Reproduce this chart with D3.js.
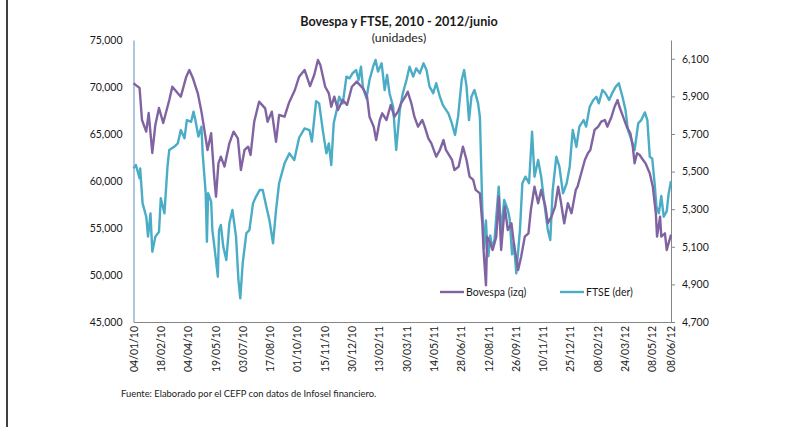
<!DOCTYPE html>
<html>
<head>
<meta charset="utf-8">
<script src="https://cdn.jsdelivr.net/npm/d3@7"></script>
<style>
  body { margin: 0; background: #fff; }
  text { font-family: Lato, "Open Sans", sans-serif; fill: #1a1a1a; }
</style>
</head>
<body>
<svg id="chart"></svg>
<script>
// Bovespa (eje izquierdo), lectura aproximada del gráfico
const bovespa = [
  ["2010-01-04",70400],["2010-01-08",70200],["2010-01-14",69900],["2010-01-18",66490],["2010-01-25",65250],
  ["2010-01-29",67230],["2010-02-04",62980],["2010-02-09",65960],["2010-02-15",67770],["2010-02-22",66170],
  ["2010-03-04",68620],["2010-03-09",70030],["2010-03-18",69330],["2010-03-23",68970],["2010-04-01",71100],
  ["2010-04-06",71810],["2010-04-12",70930],["2010-04-20",69330],["2010-04-26",67380],["2010-04-30",65780],
  ["2010-05-06",63300],["2010-05-12",65080],["2010-05-17",60460],["2010-05-20",58330],["2010-05-24",61880],
  ["2010-05-28",62590],["2010-06-03",61530],["2010-06-11",64010],["2010-06-18",65250],["2010-06-25",64540],
  ["2010-06-30",61170],["2010-07-06",63300],["2010-07-12",63650],["2010-07-16",62770],["2010-07-22",66310],
  ["2010-07-30",68440],["2010-08-09",67730],["2010-08-13",66310],["2010-08-20",67380],["2010-08-27",64180],
  ["2010-09-01",67020],["2010-09-10",66840],["2010-09-17",68260],["2010-09-27",69680],["2010-10-04",71100],
  ["2010-10-13",71810],["2010-10-22",70100],["2010-10-29",71300],["2010-11-04",72870],["2010-11-08",72340],
  ["2010-11-16",70030],["2010-11-22",69330],["2010-11-26",67900],["2010-12-01",68970],["2010-12-07",67550],
  ["2010-12-15",68620],["2010-12-22",68090],["2010-12-30",70030],["2011-01-07",70570],["2011-01-17",69860],
  ["2011-01-24",68970],["2011-01-28",66840],["2011-02-04",65780],["2011-02-08",64360],["2011-02-14",66490],
  ["2011-02-18",67200],["2011-02-25",66490],["2011-03-04",68090],["2011-03-10",66840],["2011-03-16",67380],
  ["2011-03-21",68260],["2011-03-28",68970],["2011-04-01",69500],["2011-04-07",68260],["2011-04-12",66840],
  ["2011-04-18",65780],["2011-04-25",66490],["2011-04-29",65780],["2011-05-05",64540],["2011-05-10",64010],
  ["2011-05-18",62590],["2011-05-24",63300],["2011-05-30",64360],["2011-06-03",63300],["2011-06-13",62240],
  ["2011-06-17",61170],["2011-06-24",61530],["2011-07-01",63650],["2011-07-07",62240],["2011-07-12",60460],
  ["2011-07-18",60110],["2011-07-22",59050],["2011-07-29",58690],["2011-08-02",55500],["2011-08-04",52660],
  ["2011-08-08",48900],["2011-08-10",54080],["2011-08-15",53370],["2011-08-19",52660],["2011-08-25",54080],
  ["2011-08-29",58330],["2011-09-02",52660],["2011-09-08",57270],["2011-09-13",54790],["2011-09-19",55500],
  ["2011-09-23",53370],["2011-09-30",50530],["2011-10-05",51950],["2011-10-11",54080],["2011-10-17",54440],
  ["2011-10-21",56920],["2011-10-27",59400],["2011-11-02",57630],["2011-11-07",59050],["2011-11-14",57270],
  ["2011-11-18",55500],["2011-11-24",56210],["2011-11-30",57270],["2011-12-05",59400],["2011-12-09",57980],
  ["2011-12-15",55500],["2011-12-21",57630],["2011-12-27",56570],["2012-01-03",59050],["2012-01-06",59400],
  ["2012-01-12",60820],["2012-01-18",62240],["2012-01-23",62950],["2012-01-27",63300],["2012-02-03",65430],
  ["2012-02-09",65780],["2012-02-14",66310],["2012-02-20",66490],["2012-02-24",65780],["2012-03-02",66840],
  ["2012-03-07",67900],["2012-03-12",68620],["2012-03-15",67900],["2012-03-21",66840],["2012-03-27",65780],
  ["2012-04-02",65080],["2012-04-06",63650],["2012-04-09",61880],["2012-04-13",62950],["2012-04-17",62800],
  ["2012-04-23",62240],["2012-04-27",61880],["2012-05-04",60820],["2012-05-09",59400],["2012-05-14",56570],
  ["2012-05-16",54080],["2012-05-21",56210],["2012-05-23",54080],["2012-05-29",54440],["2012-06-01",52660],
  ["2012-06-08",54300]
];

// FTSE (eje derecho)
const ftse = [
  ["2010-01-04",5517],["2010-01-08",5535],["2010-01-14",5464],["2010-01-15",5517],["2010-01-19",5331],
  ["2010-01-25",5260],["2010-01-28",5154],["2010-02-01",5278],["2010-02-04",5074],["2010-02-09",5154],
  ["2010-02-15",5180],["2010-02-18",5358],["2010-02-24",5278],["2010-03-01",5526],["2010-03-04",5615],
  ["2010-03-12",5632],["2010-03-18",5650],["2010-03-23",5721],["2010-03-29",5677],["2010-04-02",5774],
  ["2010-04-09",5765],["2010-04-13",5819],["2010-04-16",5774],["2010-04-21",5686],["2010-04-26",5739],
  ["2010-04-28",5597],["2010-05-03",5385],["2010-05-05",5127],["2010-05-07",5385],["2010-05-12",5340],
  ["2010-05-14",5189],["2010-05-18",5083],["2010-05-23",4941],["2010-05-25",5189],["2010-05-28",5216],
  ["2010-06-01",5100],["2010-06-06",5030],["2010-06-11",5225],["2010-06-16",5296],["2010-06-22",5154],
  ["2010-06-26",4923],["2010-06-29",4826],["2010-07-03",5012],["2010-07-09",5172],["2010-07-14",5189],
  ["2010-07-20",5331],["2010-07-25",5367],["2010-07-31",5402],["2010-08-05",5402],["2010-08-11",5313],
  ["2010-08-16",5243],["2010-08-22",5119],["2010-08-27",5296],["2010-09-01",5438],["2010-09-10",5544],
  ["2010-09-18",5597],["2010-09-26",5562],["2010-10-04",5680],["2010-10-13",5730],["2010-10-21",5721],
  ["2010-10-25",5660],["2010-11-01",5875],["2010-11-06",5863],["2010-11-12",5721],["2010-11-18",5597],
  ["2010-11-22",5650],["2010-11-26",5535],["2010-11-30",5757],["2010-12-05",5828],["2010-12-09",5898],
  ["2010-12-15",5863],["2010-12-21",6005],["2010-12-26",5996],["2010-12-31",6023],["2011-01-06",6040],
  ["2011-01-10",5987],["2011-01-14",6058],["2011-01-17",5952],["2011-01-23",5890],["2011-01-28",5987],
  ["2011-02-03",6058],["2011-02-07",6094],["2011-02-11",6032],["2011-02-17",6076],["2011-02-22",5934],
  ["2011-02-26",6014],["2011-03-02",5917],["2011-03-08",5845],["2011-03-13",5615],["2011-03-19",5828],
  ["2011-03-24",5917],["2011-03-30",5987],["2011-04-04",6058],["2011-04-10",6005],["2011-04-15",6049],
  ["2011-04-21",6023],["2011-04-27",6076],["2011-05-02",6040],["2011-05-07",5952],["2011-05-13",5917],
  ["2011-05-18",5970],["2011-05-24",5898],["2011-05-29",5854],["2011-06-07",5810],["2011-06-12",5765],
  ["2011-06-18",5695],["2011-06-23",5792],["2011-06-29",5987],["2011-07-03",6040],["2011-07-07",5952],
  ["2011-07-11",5774],["2011-07-15",5898],["2011-07-20",5934],["2011-07-26",5863],["2011-07-29",5790],
  ["2011-08-02",5300],["2011-08-05",5090],["2011-08-08",5240],["2011-08-10",5100],["2011-08-12",5050],
  ["2011-08-15",5160],["2011-08-18",5100],["2011-08-22",5136],["2011-08-26",5300],["2011-08-29",5420],
  ["2011-09-02",5172],["2011-09-07",5349],["2011-09-13",5296],["2011-09-16",5250],["2011-09-20",5060],
  ["2011-09-23",5120],["2011-09-27",4959],["2011-10-03",5189],
  ["2011-10-07",5438],["2011-10-12",5473],["2011-10-18",5438],["2011-10-23",5712],["2011-10-27",5473],
  ["2011-11-02",5562],["2011-11-07",5473],["2011-11-13",5313],["2011-11-18",5189],["2011-11-22",5136],
  ["2011-11-26",5402],["2011-12-02",5579],["2011-12-07",5526],["2011-12-13",5385],["2011-12-19",5438],
  ["2011-12-24",5526],["2011-12-29",5721],["2012-01-04",5632],["2012-01-09",5739],["2012-01-16",5774],
  ["2012-01-20",5739],["2012-01-26",5845],["2012-02-01",5881],["2012-02-06",5898],["2012-02-10",5863],
  ["2012-02-16",5934],["2012-02-21",5917],["2012-02-27",5881],["2012-03-03",5917],["2012-03-09",5952],
  ["2012-03-14",5970],["2012-03-20",5898],["2012-03-25",5828],["2012-03-29",5721],["2012-04-04",5668],
  ["2012-04-09",5615],["2012-04-15",5757],["2012-04-20",5774],["2012-04-26",5815],["2012-04-30",5774],
  ["2012-05-04",5579],["2012-05-08",5570],["2012-05-12",5438],["2012-05-15",5313],["2012-05-19",5278],
  ["2012-05-23",5370],["2012-05-27",5260],["2012-06-01",5290],["2012-06-04",5380],["2012-06-08",5450]
];

// etiquetas del eje x (cada 45 días + último dato)
const tickDates = ["2010-01-04","2010-02-18","2010-04-04","2010-05-19","2010-07-03","2010-08-17",
  "2010-10-01","2010-11-15","2010-12-30","2011-02-13","2011-03-30","2011-05-14","2011-06-28",
  "2011-08-12","2011-09-26","2011-11-10","2011-12-25","2012-02-08","2012-03-24","2012-05-08","2012-06-08"];
const leftTicks = [45000, 50000, 55000, 60000, 65000, 70000, 75000];
const rightTicks = [4700, 4900, 5100, 5300, 5500, 5700, 5900, 6100];

const width = 785, height = 427;
const margin = { top: 40, right: 114, bottom: 105, left: 133.5 };
const colBov = "#8064a2", colFtse = "#4bacc6";

const parse = d3.timeParse("%Y-%m-%d");
const fmt = d3.timeFormat("%d/%m/%y");

const svg = d3.select("#chart").attr("width", width).attr("height", height);

const x = d3.scaleTime()
  .domain([parse("2010-01-04"), parse("2012-06-08")])
  .range([margin.left, width - margin.right]);
const yL = d3.scaleLinear().domain([45000, 75000]).range([height - margin.bottom, margin.top]);
const yR = d3.scaleLinear().domain([4700, 6200]).range([height - margin.bottom, margin.top]);

// borde izquierdo del documento
svg.append("line").attr("x1", 7).attr("x2", 7).attr("y1", 0).attr("y2", height)
  .attr("stroke", "#000").attr("stroke-width", 1.5);

// eje x
const gx = svg.append("g")
  .attr("transform", `translate(0,${height - margin.bottom})`)
  .call(d3.axisBottom(x).tickValues(tickDates.map(parse)).tickFormat(fmt).tickSize(0).tickSizeOuter(0));
gx.select(".domain").attr("stroke", "#868686");
gx.selectAll("text")
  .attr("transform", "rotate(-90)")
  .attr("text-anchor", "end")
  .attr("x", -4).attr("y", 0).attr("dy", "0.35em")
  .attr("font-size", "10.5px");

// eje izquierdo
const gl = svg.append("g")
  .attr("transform", `translate(${margin.left},0)`)
  .call(d3.axisLeft(yL).tickValues(leftTicks).tickFormat(d3.format(",")).tickSize(0).tickSizeOuter(0).tickPadding(11));
gl.select(".domain").attr("stroke", "#95b3d7").attr("stroke-width", 1.5);
gl.selectAll("text").attr("font-size", "10.5px");

// eje derecho
const gr = svg.append("g")
  .attr("transform", `translate(${width - margin.right},0)`)
  .call(d3.axisRight(yR).tickValues(rightTicks).tickFormat(d3.format(",")).tickSize(4).tickSizeOuter(0).tickPadding(7));
gr.select(".domain").attr("stroke", "#868686");
gr.selectAll("line").attr("stroke", "#868686");
gr.selectAll("text").attr("font-size", "10.5px");

// líneas
const lineL = d3.line().x(d => x(parse(d[0]))).y(d => yL(d[1]));
const lineR = d3.line().x(d => x(parse(d[0]))).y(d => yR(d[1]));

svg.append("path").datum(ftse)
  .attr("fill", "none").attr("stroke", colFtse).attr("stroke-width", 2.4)
  .attr("stroke-linejoin", "round").attr("d", lineR);
svg.append("path").datum(bovespa)
  .attr("fill", "none").attr("stroke", colBov).attr("stroke-width", 2.4)
  .attr("stroke-linejoin", "round").attr("d", lineL);

// leyenda
const legend = [
  { name: "Bovespa (izq)", color: colBov, x: 440 },
  { name: "FTSE (der)", color: colFtse, x: 560 }
];
legend.forEach(l => {
  svg.append("line").attr("x1", l.x).attr("x2", l.x + 24).attr("y1", 292).attr("y2", 292)
    .attr("stroke", l.color).attr("stroke-width", 2.4);
  svg.append("text").attr("x", l.x + 26).attr("y", 296).attr("font-size", "10.5px").text(l.name);
});

// títulos
svg.append("text").attr("x", 399).attr("y", 26).attr("text-anchor", "middle")
  .attr("font-size", "12.6px").attr("font-weight", "bold")
  .text("Bovespa y FTSE, 2010 - 2012/junio");
svg.append("text").attr("x", 399).attr("y", 42).attr("text-anchor", "middle")
  .attr("font-size", "12.3px").text("(unidades)");

// fuente
svg.append("text").attr("x", 121).attr("y", 397).attr("font-size", "9.4px")
  .text("Fuente: Elaborado por el CEFP con datos de Infosel financiero.");
</script>
</body>
</html>
